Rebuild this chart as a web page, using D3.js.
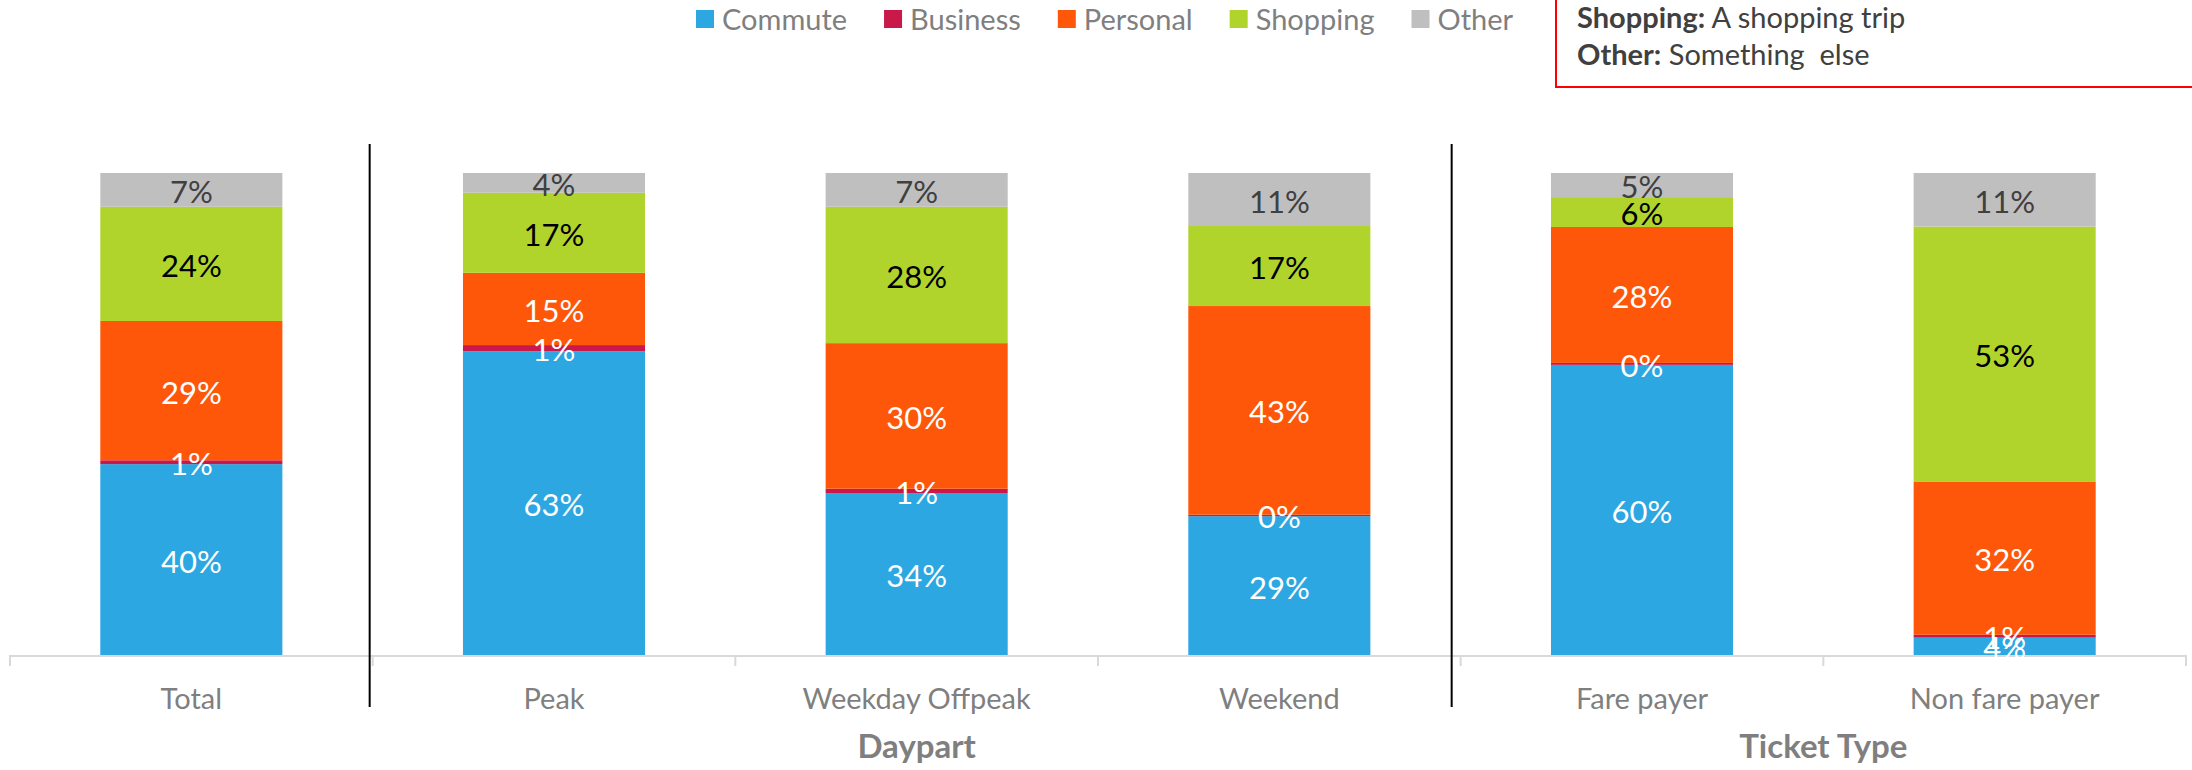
<!DOCTYPE html>
<html><head><meta charset="utf-8">
<script src="https://cdn.jsdelivr.net/npm/d3@7"></script>
<style>
html,body{margin:0;padding:0;background:#fff;}
svg{display:block;font-family:Lato, "Open Sans", sans-serif;}
</style></head>
<body>
<svg id="chart" width="2192" height="770"></svg>
<script>
// ---- data ----
const categories = ["Total", "Peak", "Weekday Offpeak", "Weekend", "Fare payer", "Non fare payer"];
const seriesNames = ["Commute", "Business", "Personal", "Shopping", "Other"];
const commute  = [39.6, 63.0, 33.6, 28.8, 60.2, 3.6];
const business = [0.8, 1.3, 0.9, 0.3, 0.4, 0.6];
const personal = [28.9, 15.0, 30.2, 43.3, 28.2, 31.8];
const shopping = [23.7, 16.6, 28.3, 16.6, 6.2, 52.9];
const other    = [7.0, 4.1, 7.0, 11.0, 5.0, 11.1];
const groupNames = ["Daypart", "Ticket Type"];
const groupFirst = ["Peak", "Fare payer"];
const groupLast  = ["Weekend", "Non fare payer"];
const separatorsAfter = ["Total", "Weekend"];
const noteTerms = ["Shopping:", "Other:"];
const noteTexts = [" A shopping trip", " Something  else"];

const colors = ["#2CA7E1", "#C9184A", "#FF5709", "#B1D42C", "#BFBFBF"];
const labelColors = ["#ffffff", "#ffffff", "#ffffff", "#000000", "#404040"];

const seriesValues = [commute, business, personal, shopping, other];
const rows = categories.map((c, i) => {
  const r = {category: c};
  seriesNames.forEach((s, j) => r[s] = seriesValues[j][i]);
  return r;
});

const svg = d3.select("#chart");

const x = d3.scaleBand().domain(categories).range([10, 2186]).paddingInner(0.498).paddingOuter(0.249);
const y = d3.scaleLinear().domain([0, 1]).range([655, 173]);

const stack = d3.stack().keys(seriesNames).offset(d3.stackOffsetExpand);
const stacked = stack(rows);

// bars
const gBars = svg.append("g");
stacked.forEach((layer, j) => {
  gBars.selectAll(null).data(layer).enter().append("rect")
    .attr("x", d => x(d.data.category))
    .attr("width", x.bandwidth())
    .attr("y", d => y(d[1]))
    .attr("height", d => y(d[0]) - y(d[1]))
    .attr("fill", colors[j]);
});

// axis line and ticks
const step = x.step();
const axisY = y(0);
svg.append("line").attr("x1", x.range()[0]).attr("x2", x.range()[1])
  .attr("y1", axisY + 1).attr("y2", axisY + 1)
  .attr("stroke", "#D9D9D9").attr("stroke-width", 2);
const boundaries = d3.range(categories.length + 1).map(i => x.range()[0] + i * step);
svg.selectAll(null).data(boundaries).enter().append("line")
  .attr("x1", d => d).attr("x2", d => d)
  .attr("y1", axisY).attr("y2", axisY + 11)
  .attr("stroke", "#D9D9D9").attr("stroke-width", 2);

// data labels
const gLab = svg.append("g").attr("font-size", 31).attr("text-anchor", "middle");
stacked.forEach((layer, j) => {
  gLab.selectAll(null).data(layer).enter().append("text")
    .attr("x", d => x(d.data.category) + x.bandwidth() / 2)
    .attr("y", d => (y(d[0]) + y(d[1])) / 2)
    .attr("dy", "0.42em")
    .attr("fill", labelColors[j])
    .text(d => Math.round(d.data[seriesNames[j]]) + "%");
});

// category labels
svg.append("g").selectAll(null).data(categories).enter().append("text")
  .attr("x", d => x(d) + x.bandwidth() / 2)
  .attr("y", 709)
  .attr("text-anchor", "middle")
  .attr("font-size", 29)
  .attr("fill", "#7F7F7F")
  .text(d => d);

// group labels
svg.append("g").selectAll(null).data(groupNames).enter().append("text")
  .attr("x", (d, i) => (x(groupFirst[i]) + x(groupLast[i]) + x.bandwidth()) / 2)
  .attr("y", 758)
  .attr("text-anchor", "middle")
  .attr("font-size", 33)
  .attr("font-weight", "bold")
  .attr("fill", "#7F7F7F")
  .text(d => d);

// separators
const sepOffset = [-3, -9];
svg.append("g").selectAll(null).data(separatorsAfter).enter().append("line")
  .attr("x1", (d, i) => x(d) + x.bandwidth() + (step - x.bandwidth()) / 2 + sepOffset[i])
  .attr("x2", (d, i) => x(d) + x.bandwidth() + (step - x.bandwidth()) / 2 + sepOffset[i])
  .attr("y1", 144).attr("y2", 707)
  .attr("stroke", "#000").attr("stroke-width", 2);

// legend
const gLeg = svg.append("g");
let lx = 696;
seriesNames.forEach((s, j) => {
  gLeg.append("rect").attr("x", lx).attr("y", 10).attr("width", 18).attr("height", 18).attr("fill", colors[j]);
  const t = gLeg.append("text").attr("x", lx + 26).attr("y", 30)
    .attr("font-size", 29).attr("fill", "#7F7F7F").text(s);
  lx += 26 + t.node().getComputedTextLength() + 37;
});

// note box
svg.append("rect").attr("x", 1556).attr("y", -20).attr("width", 700).attr("height", 107)
  .attr("fill", "none").attr("stroke", "#FF0000").attr("stroke-width", 2);
const note = svg.append("g").attr("font-size", 29).attr("fill", "#404040");
noteTerms.forEach((term, i) => {
  const t = note.append("text").attr("x", 1577).attr("y", 28 + i * 37).style("white-space", "pre");
  t.append("tspan").attr("font-weight", "bold").text(term);
  t.append("tspan").text(noteTexts[i]);
});
</script>
</body></html>
